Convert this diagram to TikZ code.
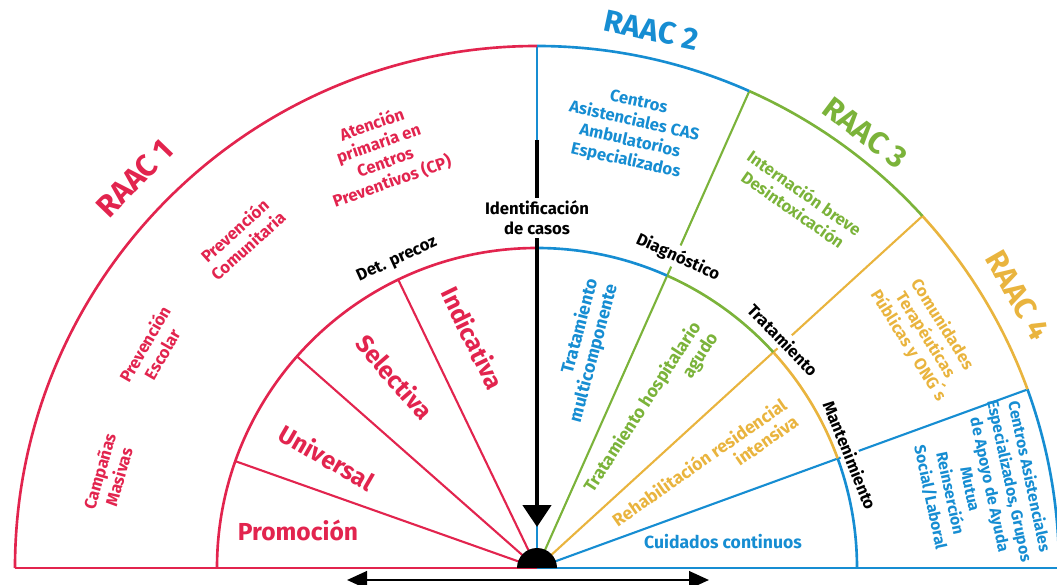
\documentclass[tikz,border=0pt]{standalone}
\usepackage{fontspec}
\setmainfont{Fira Sans}
\usepackage{tikz}
\usetikzlibrary{positioning}
\usetikzlibrary{arrows.meta}
\definecolor{raacred}{HTML}{E2244E}
\definecolor{raacblue}{HTML}{168DD2}
\definecolor{raacgreen}{HTML}{7BB33A}
\definecolor{raacyellow}{HTML}{E9B43E}
\tikzset{
  ringline/.style={line width=1.5pt},
  spokeline/.style={line width=1.2pt},
  raactitle/.style={font=\bfseries\fontsize{17.5}{20}\selectfont},
  leveltxt/.style={font=\bfseries\fontsize{14}{16}\selectfont},
  innertxt/.style={font=\bfseries\fontsize{10}{11.5}\selectfont, align=right, anchor=east},
  outertxt/.style={font=\bfseries\fontsize{9.5}{11.4}\selectfont, align=center},
  stagetxt/.style={font=\bfseries\fontsize{9.5}{11.4}\selectfont, fill=white, inner sep=1.5pt, align=center},
}
\begin{document}
\begin{tikzpicture}[x=0.2mm, y=0.2mm]
\useasboundingbox (-537,-16) rectangle (520,568);
% -- spokes --
\draw[spokeline, raacred] (0,0) -- (160.5:320);
\draw[spokeline, raacred] (0,0) -- (138.6:320);
\draw[spokeline, raacred] (0,0) -- (115.7:320);
\draw[spokeline, raacblue] (0,0) -- (90:522);
\draw[spokeline, raacgreen] (0,0) -- (66:522);
\draw[spokeline, raacyellow] (0,0) -- (42.4:522);
\draw[spokeline, raacblue] (0,0) -- (20:522);
% -- inner arc --
\draw[ringline, raacred] (180:320) arc[start angle=180, end angle=90, radius=320];
\draw[ringline, raacblue] (90:320) arc[start angle=90, end angle=66, radius=320];
\draw[ringline, raacgreen] (66:320) arc[start angle=66, end angle=42.4, radius=320];
\draw[ringline, raacyellow] (42.4:320) arc[start angle=42.4, end angle=20, radius=320];
\draw[ringline, raacblue] (20:320) arc[start angle=20, end angle=0, radius=320];
% -- outer arc --
\draw[ringline, raacred] (180:522) arc[start angle=180, end angle=90, radius=522];
\draw[ringline, raacblue] (90:522) arc[start angle=90, end angle=66, radius=522];
\draw[ringline, raacgreen] (66:522) arc[start angle=66, end angle=42.4, radius=522];
\draw[ringline, raacyellow] (42.4:522) arc[start angle=42.4, end angle=20, radius=522];
\draw[ringline, raacblue] (20:522) arc[start angle=20, end angle=0, radius=522];
% -- base line --
\coordinate (hub) at (0,0);
\draw[ringline, raacred] (180:522) -- (hub);
\draw[ringline, raacblue] (hub) -- (0:522);
% -- case identification arrow --
\coordinate (arrtop) at (90:428);
\coordinate (arrtip) at (90:41);
\draw[line width=2.5pt, -{Triangle[length=4.4mm, width=5.6mm]}] (arrtop) -- (arrtip);
\fill (20,0) arc[start angle=0, end angle=180, radius=20] -- cycle;
% -- span arrow --
\coordinate (spanleft) at (-190,-12);
\coordinate (spanright) at (172,-12);
\draw[line width=1.5pt, {Triangle[length=4mm, width=3.5mm]}-{Triangle[length=4mm, width=3.5mm]}] (spanleft) -- (spanright);
% -- titles --
\node[raactitle, raacred, rotate=46] (raac1) at (135.9:560) {RAAC 1};
\node[raactitle, raacblue, rotate=-12] (raac2) at (78:550) {RAAC 2};
\node[raactitle, raacgreen, rotate=-37] (raac3) at (53:545) {RAAC 3};
\node[raactitle, raacyellow, rotate=-60] (raac4) at (29.6:553) {RAAC 4};
% -- prevention levels --
\node[leveltxt, raacred] (promo) at (-239,38) {Promoción};
\node[leveltxt, raacred, rotate=-30] (univ) at (-210,111) {Universal};
\node[leveltxt, raacred, rotate=-49] (selec) at (-142,191) {Selectiva};
\node[leveltxt, raacred, rotate=-64] (indic) at (-64,230) {Indicativa};
% -- RAAC 1 services --
\node[outertxt, raacred, rotate=74] (campanas) at (-428,94) {Campañas\\Masivas};
\node[outertxt, raacred, rotate=60] (escolar) at (-384,219) {Prevención\\Escolar};
\node[outertxt, raacred, rotate=42] (comunit) at (-296,330) {Prevención\\Comunitaria};
\node[outertxt, raacred, rotate=19.5] (atencion) at (-155,415) {Atención\\primaria en\\Centros\\Preventivos (CP)};
% -- RAAC 2 to 4 services --
\node[outertxt, raacblue, rotate=-12.5] (cas) at (95,436) {Centros\\Asistenciales CAS\\Ambulatorios\\Especializados};
\node[outertxt, raacgreen, rotate=-35] (internacion) at (262,367) {Internación breve\\Desintoxicación};
\node[outertxt, raacyellow, rotate=-58] (comunidades) at (388,233) {Comunidades\\Terapéuticas\\Públicas y ONG´s};
\node[outertxt, raacblue, rotate=-78, font=\bfseries\fontsize{9}{11.5}\selectfont] (grupos) at (443,81) {Centros Asistenciales\\Especializados, Grupos\\de Apoyo de Ayuda\\Mutua\\Reinserción\\Social/Laboral};
% -- treatment levels --
\node[innertxt, raacblue, rotate=75] (multi) at (67,292) {Tratamiento\\multicomponente};
\node[innertxt, raacgreen, rotate=57] (hosp) at (172,244) {Tratamiento hospitalario\\agudo};
\node[innertxt, raacyellow, rotate=35] (rehab) at (258,161) {Rehabilitación residencial\\intensiva};
\node[innertxt, raacblue, anchor=center] (cuidados) at (186,26) {Cuidados continuos};
% -- stages --
\node[stagetxt] (ident) at (0,350) {Identificación\\de casos};
\node[stagetxt, rotate=24.5] (detprecoz) at (-140,308) {Det. precoz};
\node[stagetxt, rotate=-24.5] (diag) at (141,311) {Diagnóstico};
\node[stagetxt, rotate=-46] (trat) at (246,228) {Tratamiento};
\node[stagetxt, rotate=-68] (mant) at (313,113) {Mantenimiento};
\end{tikzpicture}
\end{document}
